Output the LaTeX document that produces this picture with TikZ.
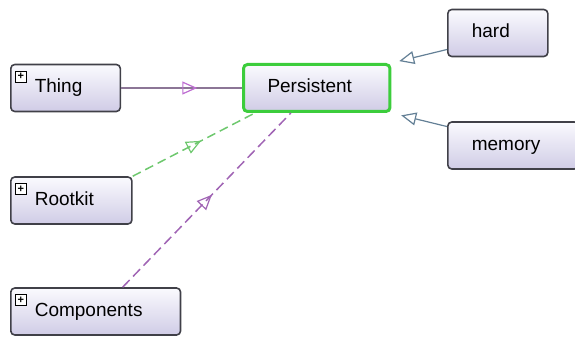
\documentclass[tikz,border=0pt]{standalone}
\usepackage{fontspec}
\setmainfont{Liberation Sans}
\usepackage{xcolor}
\usepackage{tikz}
\usetikzlibrary{positioning, arrows.meta}
\usetikzlibrary{decorations.markings}

\definecolor{boxborder}{RGB}{64,64,72}
\definecolor{boxtop}{RGB}{250,250,254}
\definecolor{boxbottom}{RGB}{208,204,230}
\definecolor{selgreen}{RGB}{60,205,60}
\definecolor{thingline}{RGB}{140,118,150}
\definecolor{thingtip}{RGB}{190,110,210}
\definecolor{rootline}{RGB}{110,200,110}
\definecolor{compline}{RGB}{160,100,180}
\definecolor{partline}{RGB}{100,128,150}

\begin{document}
\begin{tikzpicture}[x=1pt, y=1pt,
    font=\fontsize{19}{22}\selectfont,
    cls/.style={draw=boxborder, line width=1.6pt, rounded corners=4pt,
      top color=boxtop, bottom color=boxbottom, minimum height=47pt,
      inner xsep=0pt, text height=14pt, text depth=4pt,
      execute at begin node=\hspace*{24pt},
      execute at end node=\hspace*{38pt}},
    expander/.style={draw=black, fill=white, line width=0.7pt,
      minimum size=11pt, inner sep=0pt,
      font=\fontsize{11}{11}\selectfont\bfseries},
    midtip/.style 2 args={postaction={decorate, decoration={markings,
      mark=at position #1 with {\arrow[#2, solid, line width=1.2pt]{Triangle[open, length=15pt, width=13pt]}}}}},
    endtip/.style={-{Triangle[open, length=15pt, width=13pt]}, line width=1.2pt}]
  \useasboundingbox (0, 0) rectangle (575, 340);

  % Classes
  \node[cls, anchor=west] (thing) at (10, 252) {Thing};
  \node[cls, anchor=west] (rootkit) at (10, 139.5) {Rootkit};
  \node[cls, anchor=west] (components) at (10, 28.5) {Components};
  \node[cls, anchor=west, draw=selgreen, line width=3pt] (persistent) at (242, 252) {Persistent};
  \node[cls, anchor=west] (hard) at (447, 307) {hard};
  \node[cls, anchor=west] (memory) at (447, 194.5) {memory};

  % Expand boxes
  \node[expander, below right=7pt and 5pt of thing.north west, anchor=north west] (thing-plus) {+};
  \node[expander, below right=7pt and 5pt of rootkit.north west, anchor=north west] (rootkit-plus) {+};
  \node[expander, below right=7pt and 5pt of components.north west, anchor=north west] (components-plus) {+};

  % Subclass links
  \draw[thingline, line width=1.2pt, midtip={0.63}{thingtip}] (thing.east) -- (persistent.west);
  \draw[rootline, line width=1.5pt, dash pattern=on 9pt off 5pt,
    midtip={0.56}{rootline}] (rootkit.north east) -- (persistent.202);
  \draw[compline, line width=1.5pt, dash pattern=on 10pt off 5pt,
    midtip={0.53}{compline}] (components.42) -- (persistent.224);
  \draw[partline, endtip, shorten >=8pt] (hard.198) -- (persistent.north east);
  \draw[partline, endtip, shorten >=10pt] (memory.164) -- (persistent.south east);
\end{tikzpicture}
\end{document}
